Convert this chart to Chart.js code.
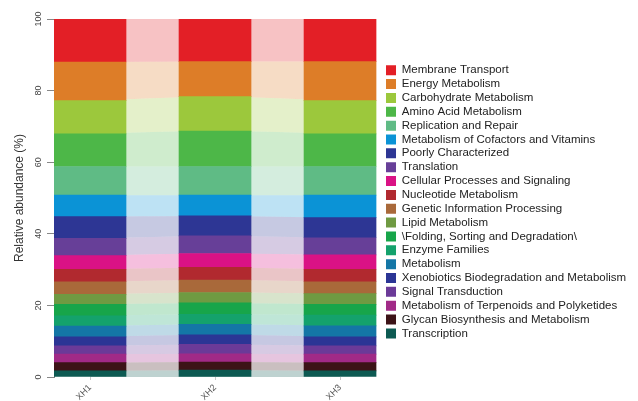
<!DOCTYPE html>
<html>
<head>
<meta charset="utf-8">
<script src="https://cdn.jsdelivr.net/npm/chart.js@4/dist/chart.umd.min.js"></script>
<style>
  html, body { margin: 0; padding: 0; background: #fff; }
  #wrap { width: 638px; height: 401px; position: relative; }
</style>
</head>
<body>
<div id="wrap"><canvas id="chart"></canvas></div>
<script>
// categories in legend order (top of the stack first)
const categories = [
  'Membrane Transport',
  'Energy Metabolism',
  'Carbohydrate Metabolism',
  'Amino Acid Metabolism',
  'Replication and Repair',
  'Metabolism of Cofactors and Vitamins',
  'Poorly Characterized',
  'Translation',
  'Cellular Processes and Signaling',
  'Nucleotide Metabolism',
  'Genetic Information Processing',
  'Lipid Metabolism',
  '\\Folding, Sorting and Degradation\\',
  'Enzyme Families',
  'Metabolism',
  'Xenobiotics Biodegradation and Metabolism',
  'Signal Transduction',
  'Metabolism of Terpenoids and Polyketides',
  'Glycan Biosynthesis and Metabolism',
  'Transcription'
];

const colors = [
  '#e31f26', '#dd7d28', '#9cc83c', '#4db748', '#5fbb85',
  '#0b93d6', '#2d3694', '#673f98', '#da1285', '#b1292f',
  '#a9693a', '#6f9a42', '#17a54a', '#14a26c', '#1476a6',
  '#2b3595', '#6b3a98', '#a12a87', '#3c1317', '#0d5a52'
];

const samples = ['XH1', 'XH2', 'XH3'];

// relative abundance (%), same order as categories
const xh1 = [12.0, 10.8, 9.3, 9.1, 8.0, 6.0, 6.1, 4.8, 3.8, 3.5, 3.5, 2.8, 3.2, 2.9, 3.0, 2.5, 2.3, 2.4, 2.3, 1.7];
const xh2 = [11.9, 9.8, 9.6, 9.9, 8.0, 5.8, 5.6, 4.9, 3.9, 3.5, 3.5, 2.9, 3.2, 2.8, 2.9, 2.7, 2.6, 2.3, 2.3, 1.9];
const xh3 = [11.9, 10.9, 9.3, 9.1, 8.0, 6.3, 5.6, 4.8, 4.0, 3.5, 3.3, 3.0, 3.0, 3.0, 3.1, 2.5, 2.3, 2.4, 2.3, 1.7];

const yTicks = [0, 20, 40, 60, 80, 100];

const seriesBySample = [xh1, xh2, xh3];

function fade(hex, a) {
  const n = parseInt(hex.slice(1), 16);
  return 'rgba(' + (n >> 16) + ',' + ((n >> 8) & 255) + ',' + (n & 255) + ',' + a + ')';
}

// stack from the bottom up: last category first
const order = categories.map((_, i) => i).reverse();

const barSets = order.map(i => ({
  type: 'bar',
  label: categories[i],
  data: seriesBySample.map((s, k) => ({ x: k, y: s[i] })),
  backgroundColor: colors[i],
  borderWidth: 0,
  barThickness: 72,
  stack: 'bars',
  order: 0
}));

// pale bands joining the bars
const bandSets = order.map((i, j) => ({
  type: 'line',
  label: 'band ' + categories[i],
  data: seriesBySample.map((s, k) => ({ x: k, y: s[i] })),
  backgroundColor: fade(colors[i], 0.27),
  borderWidth: 0,
  pointRadius: 0,
  fill: j === 0 ? 'origin' : '-1',
  cubicInterpolationMode: 'monotone',
  stack: 'bands',
  order: 1
}));

Chart.defaults.font.family = '"Liberation Sans", Arial, sans-serif';

new Chart(document.getElementById('chart'), {
  data: { datasets: barSets.concat(bandSets) },
  options: {
    responsive: true,
    maintainAspectRatio: false,
    animation: false,
    devicePixelRatio: 1,
    layout: { padding: { top: 2.6, bottom: 0, left: 0, right: 1.85 } },
    scales: {
      x: {
        type: 'linear',
        stacked: true,
        offset: false,
        bounds: 'data',
        min: -0.288,
        max: 2.349,
        afterBuildTicks: axis => { axis.ticks = samples.map((_, k) => ({ value: k })); },
        afterFit: axis => { axis.height = 24; },
        border: { display: false },
        grid: { display: true, offset: false, drawOnChartArea: false, drawTicks: true, tickLength: 3, color: '#c8c8c8' },
        ticks: {
          callback: v => samples[v] ?? '',
          autoSkip: false,
          minRotation: 45,
          maxRotation: 45,
          padding: 2.5,
          color: '#555',
          font: { size: 9 }
        }
      },
      y: {
        stacked: true,
        min: 0,
        max: 100,
        afterBuildTicks: axis => { axis.ticks = yTicks.map(v => ({ value: v })); },
        afterFit: axis => { axis.width = 54; axis.paddingTop = 19; },
        border: { display: true, color: '#888', width: 1 },
        grid: { display: true, drawOnChartArea: false, drawTicks: true, tickLength: 7, color: '#888' },
        ticks: {
          minRotation: 90,
          maxRotation: 90,
          crossAlign: 'center',
          padding: 0.5,
          color: '#444',
          font: { size: 9 }
        },
        title: {
          display: true,
          text: 'Relative abundance (%)',
          color: '#333',
          font: { size: 12 },
          padding: { top: 12.8, bottom: 0 }
        }
      }
    },
    plugins: {
      tooltip: { enabled: false },
      legend: {
        position: 'right',
        reverse: true,
        maxWidth: 320,
        labels: {
          filter: (item, data) => data.datasets[item.datasetIndex].type === 'bar',
          boxWidth: 10,
          boxHeight: 10,
          padding: 2.35,
          color: '#222',
          font: { size: 11.5 }
        }
      }
    }
  }
});
</script>
</body>
</html>
